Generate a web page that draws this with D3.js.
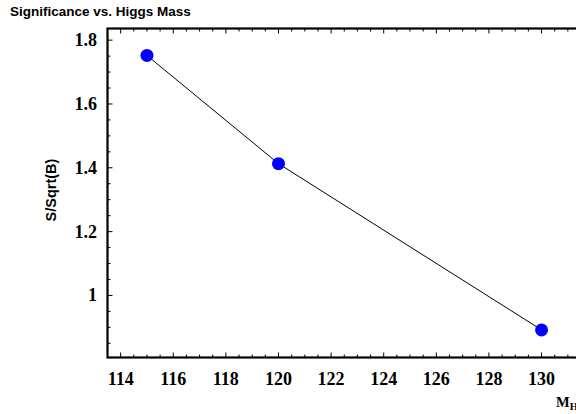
<!DOCTYPE html>
<html>
<head>
<meta charset="utf-8">
<script src="https://cdn.jsdelivr.net/npm/d3@7"></script>
<style>
  body { margin: 0; background: #fff; }
  svg { display: block; }
</style>
</head>
<body>
<svg id="chart" width="576" height="414"></svg>
<script>
// data
const massValues = [115, 120, 130];
const significance = [1.752, 1.413, 0.892];
const xTickValues = [114, 116, 118, 120, 122, 124, 126, 128, 130];
const yTickValues = [1, 1.2, 1.4, 1.6, 1.8];

const svg = d3.select("#chart");

// plot area (right side runs off the canvas like the original)
const plotLeft = 107.5, plotTop = 28.5, plotRight = 581, plotBottom = 357.5;

const x = d3.scaleLinear().domain([113.5, 131.5]).range([plotLeft, plotRight]);
const y = d3.scaleLinear().domain([0.8055, 1.8365]).range([plotBottom, plotTop]);

const serif = "'Liberation Serif', 'Times New Roman', serif";
const sans = "'Liberation Sans', Arial, Helvetica, sans-serif";

// frame
svg.append("rect")
    .attr("x", plotLeft).attr("y", plotTop)
    .attr("width", plotRight - plotLeft).attr("height", plotBottom - plotTop)
    .attr("fill", "none")
    .attr("stroke", "black")
    .attr("stroke-width", 2.2);

// x ticks (bottom + top), majors every 2, minors every 0.5
const xMinor = d3.range(114, 131.01, 0.5);
const g = svg.append("g").attr("stroke", "black").attr("stroke-width", 1);
xMinor.forEach(v => {
  const major = Math.abs(v % 2) < 1e-6;
  const len = major ? 5 : 3;
  g.append("line").attr("x1", x(v)).attr("x2", x(v)).attr("y1", plotBottom).attr("y2", plotBottom - len);
  g.append("line").attr("x1", x(v)).attr("x2", x(v)).attr("y1", plotTop).attr("y2", plotTop + len);
});

// y ticks (left + right), majors every 0.2, minors every 0.05
const yMinor = d3.range(0.85, 1.801, 0.05);
yMinor.forEach(v => {
  const major = Math.abs(Math.round(v * 100) % 20) === 0;
  const len = major ? 5 : 3;
  g.append("line").attr("y1", y(v)).attr("y2", y(v)).attr("x1", plotLeft).attr("x2", plotLeft + len);
  g.append("line").attr("y1", y(v)).attr("y2", y(v)).attr("x1", plotRight).attr("x2", plotRight - len);
});

// tick labels
svg.append("g")
  .selectAll("text")
  .data(xTickValues)
  .join("text")
    .attr("x", d => x(d))
    .attr("y", 385)
    .attr("text-anchor", "middle")
    .attr("font-family", serif)
    .attr("font-weight", "bold")
    .attr("font-size", 18)
    .text(d => d);

svg.append("g")
  .selectAll("text")
  .data(yTickValues)
  .join("text")
    .attr("x", 97)
    .attr("y", d => y(d) + 6)
    .attr("text-anchor", "end")
    .attr("font-family", serif)
    .attr("font-weight", "bold")
    .attr("font-size", 18)
    .text(d => d3.format("")(d));

// line + points
const line = d3.line()
    .x((d, i) => x(massValues[i]))
    .y(d => y(d));

svg.append("path")
    .datum(significance)
    .attr("fill", "none")
    .attr("stroke", "black")
    .attr("stroke-width", 1)
    .attr("d", line);

svg.append("g")
  .selectAll("circle")
  .data(significance)
  .join("circle")
    .attr("cx", (d, i) => x(massValues[i]))
    .attr("cy", d => y(d))
    .attr("r", 6.5)
    .attr("fill", "#0000ff");

// titles
svg.append("text")
    .attr("x", 10).attr("y", 16)
    .attr("font-family", sans)
    .attr("font-weight", "bold")
    .attr("font-size", 13.5)
    .text("Significance vs. Higgs Mass");

svg.append("text")
    .attr("transform", "translate(56,190) rotate(-90)")
    .attr("text-anchor", "middle")
    .attr("font-family", sans)
    .attr("font-weight", "bold")
    .attr("font-size", 14.5)
    .text("S/Sqrt(B)");

// x axis title, partly cut off by the right edge as in the original
const xl = svg.append("text")
    .attr("x", 556).attr("y", 407)
    .attr("font-family", serif)
    .attr("font-weight", "bold")
    .attr("font-size", 14.5);
xl.append("tspan").text("M");
xl.append("tspan").attr("dy", 3).attr("font-size", 10.5).text("H");
</script>
</body>
</html>
